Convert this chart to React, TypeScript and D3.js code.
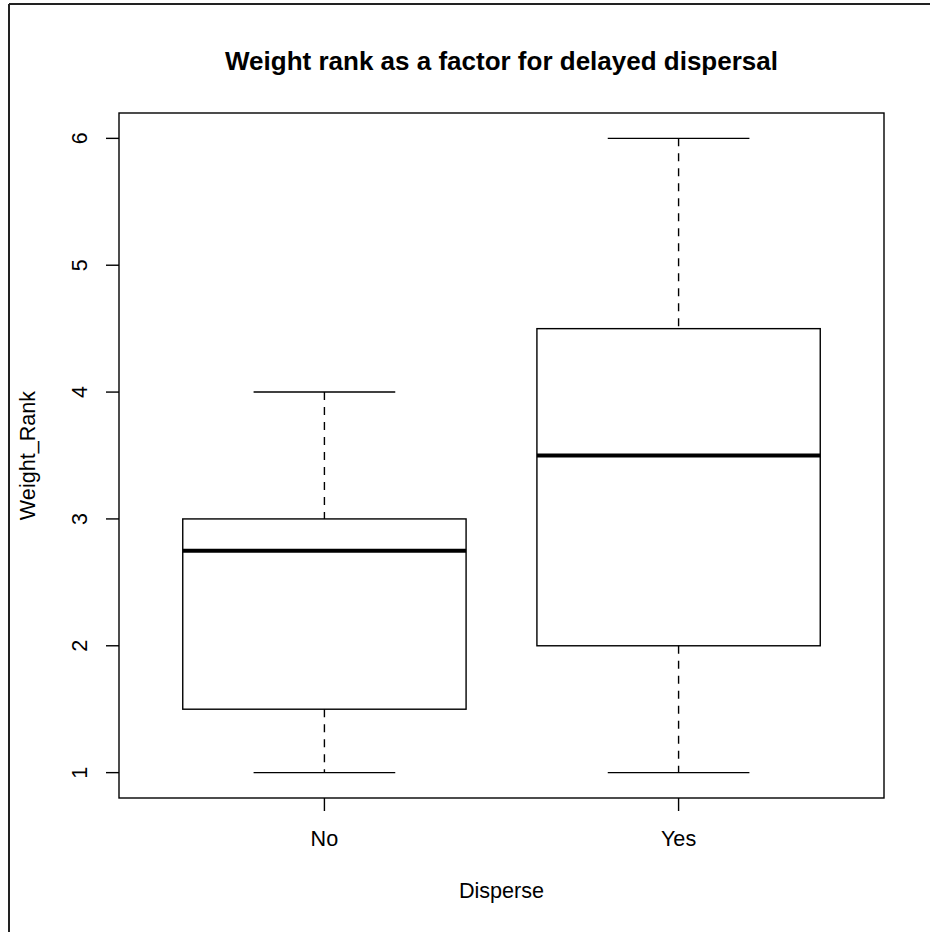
import React from "react";
import * as d3 from "d3";

const categories = ["No", "Yes"];
const lowerWhisker = [1, 1];
const q1 = [1.5, 2];
const median = [2.75, 3.5];
const q3 = [3.0, 4.5];
const upperWhisker = [4, 6];
const yTicks = [1, 2, 3, 4, 5, 6];

const W = 930, H = 932;
const plot = { left: 119, right: 884, top: 113, bottom: 798 };
const font = "Liberation Sans, Arial, sans-serif";
const fs = 21.6;

export default function App() {
  const x = d3.scaleLinear().domain([0.42, 2.58]).range([plot.left, plot.right]);
  const y = d3.scaleLinear().domain([0.8, 6.2]).range([plot.bottom, plot.top]);
  const half = x(1.4) - x(1);
  const cap = x(1.2) - x(1);
  return (
    <svg width={W} height={H} style={{ position: "absolute", left: 0, top: 0, background: "#fff" }}>
      <rect x={0} y={0} width={W} height={H} fill="#fff" />
      <line x1={9} y1={4} x2={W} y2={4} stroke="#222" strokeWidth={2} />
      <line x1={9} y1={4} x2={9} y2={H} stroke="#222" strokeWidth={2} />
      <text x={(plot.left + plot.right) / 2} y={70} textAnchor="middle" fontFamily={font} fontWeight="bold" fontSize={26}>
        Weight rank as a factor for delayed dispersal
      </text>
      {categories.map((c, i) => {
        const cx = x(i + 1);
        return (
          <g key={c} stroke="#000" fill="none">
            <line x1={cx} x2={cx} y1={y(upperWhisker[i])} y2={y(q3[i])} strokeDasharray="8,7" strokeWidth={1.4} />
            <line x1={cx} x2={cx} y1={y(q1[i])} y2={y(lowerWhisker[i])} strokeDasharray="8,7" strokeWidth={1.4} />
            <line x1={cx - cap} x2={cx + cap} y1={y(upperWhisker[i])} y2={y(upperWhisker[i])} strokeWidth={1.4} />
            <line x1={cx - cap} x2={cx + cap} y1={y(lowerWhisker[i])} y2={y(lowerWhisker[i])} strokeWidth={1.4} />
            <rect x={cx - half} y={y(q3[i])} width={2 * half} height={y(q1[i]) - y(q3[i])} strokeWidth={1.4} />
            <line x1={cx - half} x2={cx + half} y1={y(median[i])} y2={y(median[i])} strokeWidth={4} />
          </g>
        );
      })}
      <rect x={plot.left} y={plot.top} width={plot.right - plot.left} height={plot.bottom - plot.top} fill="none" stroke="#000" strokeWidth={1.4} />
      {yTicks.map((t) => (
        <g key={t}>
          <line x1={plot.left - 13} x2={plot.left} y1={y(t)} y2={y(t)} stroke="#000" strokeWidth={1.4} />
          <text transform={`translate(${87},${y(t)}) rotate(-90)`} textAnchor="middle" fontFamily={font} fontSize={fs}>{t}</text>
        </g>
      ))}
      {categories.map((c, i) => (
        <g key={c}>
          <line x1={x(i + 1)} x2={x(i + 1)} y1={plot.bottom} y2={plot.bottom + 13} stroke="#000" strokeWidth={1.4} />
          <text x={x(i + 1)} y={846} textAnchor="middle" fontFamily={font} fontSize={fs}>{c}</text>
        </g>
      ))}
      <text x={(plot.left + plot.right) / 2} y={898} textAnchor="middle" fontFamily={font} fontSize={fs}>Disperse</text>
      <text transform={`translate(${35},${y(3.5)}) rotate(-90)`} textAnchor="middle" fontFamily={font} fontSize={fs}>Weight_Rank</text>
    </svg>
  );
}
